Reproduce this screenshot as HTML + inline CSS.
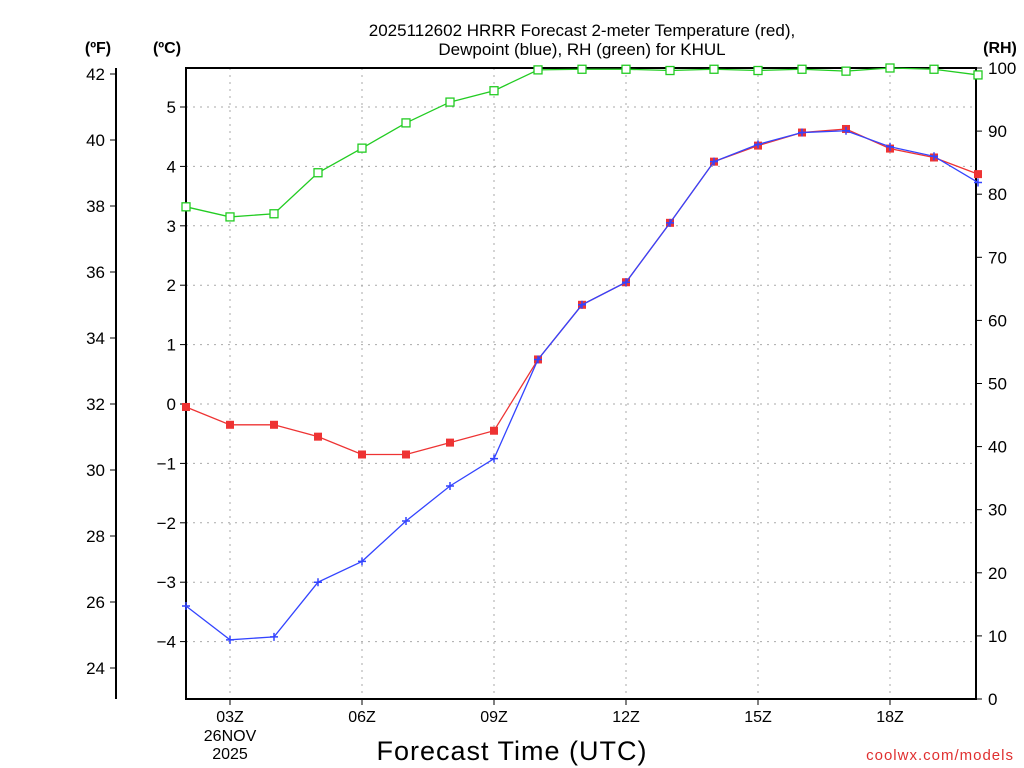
<!DOCTYPE html>
<html><head><meta charset="utf-8"><style>
html,body{margin:0;padding:0;background:#fff;}
svg{display:block;font-family:"Liberation Sans","DejaVu Sans",sans-serif;}
</style></head><body>
<svg id="chart" width="1024" height="768" viewBox="0 0 1024 768" xmlns="http://www.w3.org/2000/svg">
<text x="582" y="36" text-anchor="middle" font-size="17">2025112602 HRRR Forecast 2-meter Temperature (red),</text>
<text x="582" y="55" text-anchor="middle" font-size="17">Dewpoint (blue), RH (green) for KHUL</text>
<text x="98" y="53" text-anchor="middle" font-size="16" font-weight="bold">(ºF)</text>
<text x="167" y="53" text-anchor="middle" font-size="16" font-weight="bold">(ºC)</text>
<text x="1000" y="53" text-anchor="middle" font-size="16" font-weight="bold">(RH)</text>
<text x="512" y="760" text-anchor="middle" font-size="27" letter-spacing="1">Forecast Time (UTC)</text>
<text x="1014" y="760" text-anchor="end" font-size="15" fill="#e03030" letter-spacing="1">coolwx.com/models</text>
<g id="grid"></g>
<g id="axes"></g>
<g id="series"></g>
</svg>
<script>
const hours = [2,3,4,5,6,7,8,9,10,11,12,13,14,15,16,17,18,19,20];
const tempC = [-0.05,-0.35,-0.35,-0.55,-0.85,-0.85,-0.65,-0.45,0.75,1.67,2.05,3.05,4.08,4.35,4.57,4.63,4.3,4.15,3.87];
const dewC = [-3.4,-3.97,-3.92,-3.0,-2.65,-1.97,-1.38,-0.92,0.75,1.67,2.05,3.05,4.08,4.37,4.57,4.6,4.33,4.17,3.73];
const rh = [78,76.4,76.9,83.4,87.3,91.3,94.6,96.4,99.7,99.8,99.8,99.6,99.8,99.6,99.8,99.5,100,99.8,98.9];
const xTickHours = [3,6,9,12,15,18];
const xTickLabels = ["03Z","06Z","09Z","12Z","15Z","18Z"];
const cTicks = [-4,-3,-2,-1,0,1,2,3,4,5];
const fTicks = [24,26,28,30,32,34,36,38,40,42];
const rhTicks = [0,10,20,30,40,50,60,70,80,90,100];

const NS="http://www.w3.org/2000/svg";
const L=186,R=976,T=68,B=699;
const xS=h=>186+(h-2)*44;
const yC=c=>404-c*59.4;
const yF=f=>404-(f-32)*33;
const yRH=v=>699-v*6.31;
function mk(tag,attrs,parent){const e=document.createElementNS(NS,tag);for(const k in attrs)e.setAttribute(k,attrs[k]);parent.appendChild(e);return e;}
const grid=document.getElementById('grid'),axes=document.getElementById('axes'),series=document.getElementById('series');

cTicks.forEach(c=>{
  const y=yC(c);
  const g=mk('line',{x1:L,x2:R,y1:y,y2:y,stroke:'#aaa','stroke-dasharray':'2,5'},grid);
  
  
  mk('line',{x1:L-6,x2:L,y1:y,y2:y,stroke:'#000'},axes);
  const t=mk('text',{x:L-10,y:y+6,'text-anchor':'end','font-size':'17'},axes);
  t.textContent=(c<0?'\u2212':'')+Math.abs(c);
  
  
});
xTickHours.forEach((h,i)=>{
  const x=xS(h);
  const g=mk('line',{x1:x,x2:x,y1:T,y2:B,stroke:'#aaa','stroke-dasharray':'2,5'},grid);
  
  
  mk('line',{x1:x,x2:x,y1:B,y2:B+6,stroke:'#000'},axes);
  const t=mk('text',{x:x,y:B+23,'text-anchor':'middle','font-size':'16'},axes);
  t.textContent=xTickLabels[i];
  
  
});
const d1=mk('text',{x:xS(3),y:B+42,'text-anchor':'middle','font-size':'16'},axes);d1.textContent='26NOV';


const d2=mk('text',{x:xS(3),y:B+60,'text-anchor':'middle','font-size':'16'},axes);d2.textContent='2025';



mk('rect',{x:L,y:T,width:R-L,height:B-T,fill:'none',stroke:'#000','stroke-width':2},axes);
mk('line',{x1:116,x2:116,y1:T,y2:B,stroke:'#000','stroke-width':2},axes);
fTicks.forEach(f=>{
  const y=yF(f);
  mk('line',{x1:110,x2:116,y1:y,y2:y,stroke:'#000'},axes);
  const t=mk('text',{x:105,y:y+6,'text-anchor':'end','font-size':'17'},axes);
  t.textContent=f;
  
  
});
rhTicks.forEach(v=>{
  const y=yRH(v);
  mk('line',{x1:R,x2:R+6,y1:y,y2:y,stroke:'#000'},axes);
  const t=mk('text',{x:R+12,y:y+6,'text-anchor':'start','font-size':'17'},axes);
  t.textContent=v;
  
  
});

function line(vals,yf,color,name){
  const p=mk('polyline',{points:vals.map((v,i)=>xS(hours[i])+','+yf(v)).join(' '),fill:'none',stroke:color,'stroke-width':1.3},series);
  
  
}
line(rh,yRH,'#22cc22','rh-line');
rh.forEach((v,i)=>{const m=mk('rect',{x:xS(hours[i])-4,y:yRH(v)-4,width:8,height:8,fill:'#fff',stroke:'#22cc22','stroke-width':1.3},series);
  
  });
line(tempC,yC,'#ee3333','temperature-line');
tempC.forEach((v,i)=>{const m=mk('rect',{x:xS(hours[i])-4,y:yC(v)-4,width:8,height:8,fill:'#ee3333'},series);
  
  });
line(dewC,yC,'#3344ff','dewpoint-line');
dewC.forEach((v,i)=>{const x=xS(hours[i]),y=yC(v);
  const m=mk('path',{d:`M${x-4},${y}H${x+4}M${x},${y-4}V${y+4}`,stroke:'#3344ff','stroke-width':1.5},series);
  
  });
</script>
</body></html>
